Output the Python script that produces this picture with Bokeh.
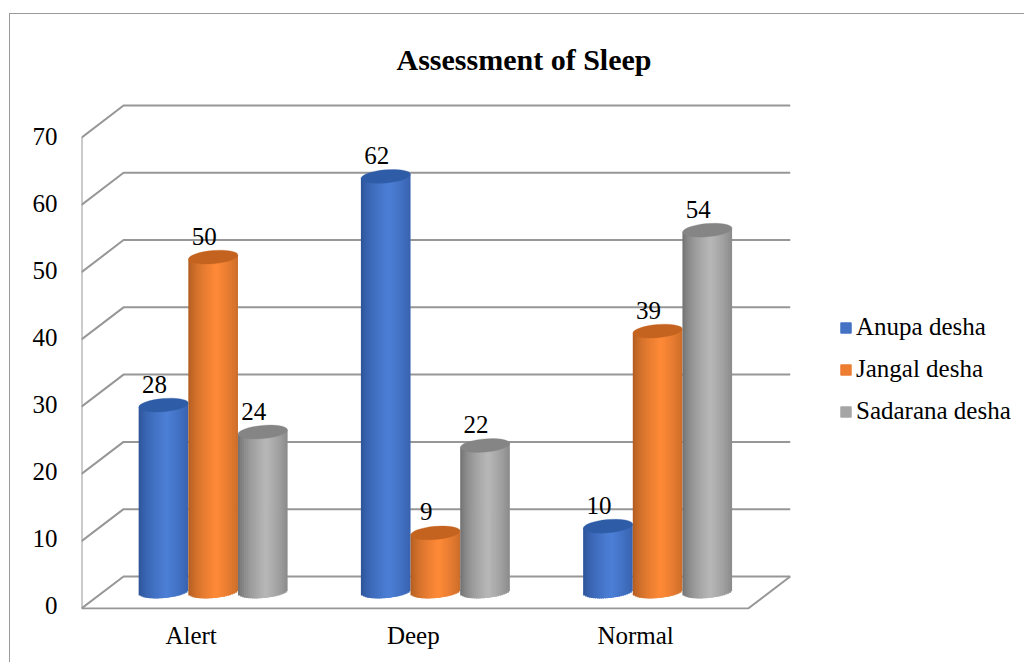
import math
from bokeh.plotting import figure
from bokeh.models import ColumnDataSource, FixedTicker, Range1d, LinearAxis, Legend, LegendItem
from bokeh.core.properties import value
from bokeh.embed import file_html
from bokeh.resources import INLINE

TITLE = "Assessment of Sleep"
categories = ["Alert", "Deep", "Normal"]
anupa = [28, 62, 10]
jangal = [50, 9, 39]
sadarana = [24, 22, 54]
series_names = ["Anupa desha", "Jangal desha", "Sadarana desha"]
y_ticks = [0, 10, 20, 30, 40, 50, 60, 70]

FONT = "Liberation Serif"
BASE = ["#4472c4", "#ed7d31", "#a5a5a5"]
CAP = ["#2f5ca6", "#c4631f", "#858585"]
EDGE = ["#2a4f94", "#a9591f", "#6b6b6b"]
GLOW = ["#4c7fd6", "#ff8a38", "#b8b8b8"]
GRID = "#979797"
RULE = "#9a9a9a"

# pixel scales of the frame
W, H = 1024, 662
OX, OY = 9, 13      # where the chart box starts on the page
BW = 1              # its rule takes one pixel from the inside
PX_X = 222.0
PX_Y = 6.714
FRAME_L, FRAME_R, FRAME_T, FRAME_B = 81, W, 100, 608
Y0 = 607  # screen y of value 0, front plane

x_start = -0.5
x_end = x_start + (FRAME_R - FRAME_L) / PX_X
y_start = (Y0 - FRAME_B) / PX_Y
y_end = (Y0 - FRAME_T) / PX_Y

p = figure(width=W - OX, height=H - OY, output_backend="svg", toolbar_location=None,
           x_range=Range1d(x_start, x_end), y_range=Range1d(y_start, y_end),
           min_border_left=FRAME_L - OX - BW, min_border_right=0,
           min_border_top=FRAME_T - OY - BW, min_border_bottom=H - FRAME_B,
           x_axis_type=None, y_axis_type=None)
p.margin = (OY, 0, 0, OX)
p.styles = {"border-top": f"{BW}px solid {RULE}", "border-left": f"{BW}px solid {RULE}", "box-sizing": "border-box"}
p.outline_line_color = None
p.grid.visible = False
p.background_fill_color = "white"
p.border_fill_color = "white"

# title
p.title.text = TITLE
p.title.text_font = FONT
p.title.text_font_size = "30px"
p.title.text_font_style = "bold"
p.title.text_color = "#000000"
p.title.align = "left"
p.title.vertical_align = "top"
p.title.offset = 396 - FRAME_L
p.title.standoff = 45

# axes
TICK_Y0 = 604
TICK_SCALE = 6.686
p.extra_y_ranges = {"ticks": Range1d((TICK_Y0 - FRAME_B) / TICK_SCALE, (TICK_Y0 - FRAME_T) / TICK_SCALE)}
yaxis = LinearAxis(y_range_name="ticks", ticker=FixedTicker(ticks=y_ticks))
yaxis.axis_line_color = None
yaxis.major_tick_line_color = None
yaxis.minor_tick_line_color = None
yaxis.major_label_standoff = 18
yaxis.major_label_text_font = FONT
yaxis.major_label_text_font_size = "25px"
yaxis.major_label_text_color = "#000000"
p.add_layout(yaxis, "left")

LABEL_SHIFT = 1.5 / PX_X
p.extra_x_ranges = {"ticks": Range1d(x_start + LABEL_SHIFT, x_end + LABEL_SHIFT)}
xaxis = LinearAxis(x_range_name="ticks", ticker=FixedTicker(ticks=list(range(len(categories)))))
xaxis.major_label_overrides = {i: c for i, c in enumerate(categories)}
xaxis.axis_line_color = None
xaxis.major_tick_line_color = None
xaxis.minor_tick_line_color = None
xaxis.major_label_standoff = 6
xaxis.major_label_text_font = FONT
xaxis.major_label_text_font_size = "25px"
xaxis.major_label_text_color = "#000000"
p.add_layout(xaxis, "below")

# walls and floor
N_CAT = len(categories)
depth_x = 42 / PX_X
depth_y = 32 / PX_Y
xl = x_start
xr = x_start + N_CAT
grid_xs, grid_ys = [], []
for t in y_ticks:
    grid_xs.append([xl, xl + depth_x, xr + depth_x])
    grid_ys.append([t, t + depth_y, t + depth_y])
grid_xs.append([xl, xr, xr + depth_x])
grid_ys.append([0, 0, depth_y])
grid_xs.append([xl, xl])
grid_ys.append([0, y_ticks[-1]])
p.multi_line(grid_xs, grid_ys, line_color=GRID, line_width=2)

# cylinders
bar_w = 49.6 / PX_X
slot = [-1, 0, 1]
bar_dx = 20.5 / PX_X
bar_dy = 15 / PX_Y
base_lift = 2 / PX_Y
tilt = 2.2 / PX_Y     # rise of the ellipse across half a bar
minor = 6.6 / PX_Y    # half height of the ellipse
N_STRIP = 25
OVER = 1.0 / PX_X


def mix(a, b, t):
    ca = [int(a[i:i + 2], 16) for i in (1, 3, 5)]
    cb = [int(b[i:i + 2], 16) for i in (1, 3, 5)]
    return "#%02x%02x%02x" % tuple(round(x + (y - x) * t) for x, y in zip(ca, cb))


series = [anupa, jangal, sadarana]
label_x, label_y, label_t = [], [], []
strips = dict(left=[], right=[], top=[], bottom=[], color=[])
caps = dict(x=[], y=[], color=[])
for s, vals in enumerate(series):
    for c, v in enumerate(vals):
        cx = c + slot[s] * bar_w + bar_dx
        top = v + bar_dy
        base = bar_dy + base_lift
        for k in range(N_STRIP):
            u0 = -1 + 2 * k / N_STRIP
            u1 = u0 + 2 / N_STRIP
            u = (u0 + u1) / 2
            lum = max(0.0, 1 - abs(u - 0.12) / 1.12) ** 0.6
            strips["left"].append(cx + u0 * bar_w / 2)
            strips["right"].append(cx + u1 * bar_w / 2 + (OVER if k < N_STRIP - 1 else 0))
            strips["top"].append(top + tilt * u)
            strips["bottom"].append(base + tilt * u - minor * math.sqrt(1 - u * u))
            strips["color"].append(mix(EDGE[s], GLOW[s], lum))
        caps["x"].append(cx)
        caps["y"].append(top)
        caps["color"].append(CAP[s])
        label_x.append(cx)
        label_y.append(top)
        label_t.append(str(v))

p.quad(source=ColumnDataSource(strips), left="left", right="right", top="top", bottom="bottom",
       fill_color="color", line_color=None)
p.ellipse(source=ColumnDataSource(caps), x="x", y="y", width=bar_w, height=2 * minor,
          angle=math.atan2(2.2, 24.8), fill_color="color", line_color="color", line_width=0.3)

p.text(label_x, label_y, text=label_t, text_font=value(FONT), text_font_size="25px",
       text_color="#000000", text_align="center", text_baseline="alphabetic",
       x_offset=-9, y_offset=-21)

# legend
nan = float("nan")
swatches = [p.quad(left=[nan], right=[nan], top=[nan], bottom=[nan], fill_color=BASE[i], line_color=BASE[i])
            for i in range(3)]
legend = Legend(items=[LegendItem(label=n, renderers=[r]) for n, r in zip(series_names, swatches)],
                location=(839 - FRAME_L, 608 - 432 + 8))
legend.border_line_color = None
legend.background_fill_alpha = 0
legend.glyph_width = 13
legend.glyph_height = 13
legend.label_standoff = 4
legend.spacing = 14
legend.padding = 6
legend.margin = 0
legend.label_text_font = FONT
legend.label_text_font_size = "25px"
legend.label_text_color = "#000000"
legend.label_height = 28
p.add_layout(legend, "center")

open("out.html", "w").write(file_html(p, INLINE))
